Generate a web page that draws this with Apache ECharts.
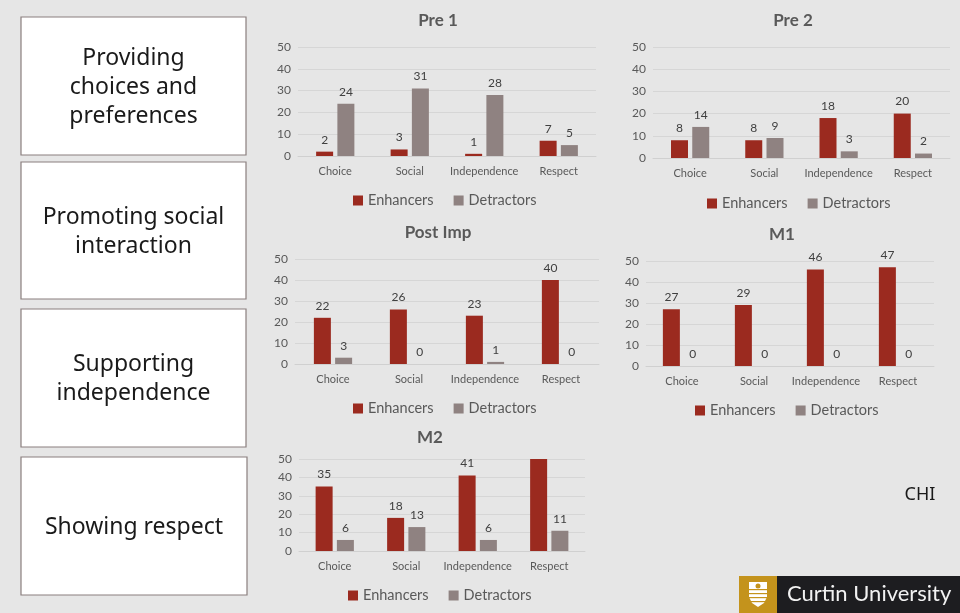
<!DOCTYPE html>
<html>
<head>
<meta charset="utf-8">
<script src="https://cdn.jsdelivr.net/npm/echarts@6/dist/echarts.min.js"></script>
<style>
html,body{margin:0;padding:0;background:#e6e6e6;}
#c{width:960px;height:613px;}
</style>
</head>
<body>
<div id="c"></div>
<script>
const categories = ['Choice', 'Social', 'Independence', 'Respect'];
const yTicks = [0, 10, 20, 30, 40, 50];
const chartTitles = ['Pre 1', 'Pre 2', 'Post Imp', 'M1', 'M2'];
const seriesNames = ['Enhancers', 'Detractors'];
const pre1Enhancers = [2, 3, 1, 7];
const pre1Detractors = [24, 31, 28, 5];
const pre2Enhancers = [8, 8, 18, 20];
const pre2Detractors = [14, 9, 3, 2];
const postImpEnhancers = [22, 26, 23, 40];
const postImpDetractors = [3, 0, 1, 0];
const m1Enhancers = [27, 29, 46, 47];
const m1Detractors = [0, 0, 0, 0];
const m2Enhancers = [35, 18, 41, 50];
const m2Detractors = [6, 13, 6, 11];
const boxLabels = ['Providing\nchoices and\npreferences', 'Promoting social\ninteraction', 'Supporting\nindependence', 'Showing respect'];

const enhData = [pre1Enhancers, pre2Enhancers, postImpEnhancers, m1Enhancers, m2Enhancers];
const detData = [pre1Detractors, pre2Detractors, postImpDetractors, m1Detractors, m2Detractors];

// layout
const grids = [
  {left: 298, top: 47, width: 298, height: 109},
  {left: 653, top: 47, width: 297, height: 111},
  {left: 295, top: 259, width: 304, height: 105},
  {left: 646, top: 261, width: 288, height: 105},
  {left: 299, top: 459, width: 286, height: 92}
];
const titlePos = [[438, 12], [793, 12], [438, 224], [782, 226], [430, 429]];
const legendPos = [[353, 193], [707, 196], [353, 401], [695, 403], [348, 588]];
const boxes = [[21, 17, 225, 138], [21, 162, 225, 137], [21, 309, 225, 138], [21, 457, 226, 138]];

const RED = '#9b2a1f', GREY = '#8f8281', TXT = '#595959', FONT = 'Lato, "Open Sans", sans-serif';
const yMax = yTicks[yTicks.length - 1];

const chart = echarts.init(document.getElementById('c'), null, {renderer: 'canvas'});

const option = {
  backgroundColor: '#e6e6e6',
  animation: false,
  color: [RED, GREY],
  title: chartTitles.map((t, i) => ({
    text: t, left: titlePos[i][0], top: titlePos[i][1], textAlign: 'center', padding: 0,
    textStyle: {fontFamily: FONT, fontSize: 17, fontWeight: 'bold', color: TXT}
  })),
  legend: legendPos.map(p => ({
    data: seriesNames, left: p[0], top: p[1], padding: 0, itemWidth: 10, itemHeight: 10, itemGap: 20,
    icon: 'rect', textStyle: {fontFamily: FONT, fontSize: 14.5, color: TXT}
  })),
  grid: grids.map(g => Object.assign({containLabel: false}, g)),
  xAxis: grids.map((g, i) => ({
    type: 'category', gridIndex: i, data: categories,
    axisLine: {lineStyle: {color: '#d0d0d0'}}, axisTick: {show: false},
    axisLabel: {fontFamily: FONT, fontSize: 11, color: TXT, margin: 10, interval: 0}
  })),
  yAxis: grids.map((g, i) => ({
    type: 'value', gridIndex: i, min: yTicks[0], max: yMax, interval: yTicks[1] - yTicks[0],
    axisLine: {show: false}, axisTick: {show: false},
    splitLine: {lineStyle: {color: '#d6d6d6'}},
    axisLabel: {fontFamily: FONT, fontSize: 12, color: TXT, margin: 7}
  })),
  series: [],
  graphic: []
};

const labelCfg = {
  show: true, position: 'top', distance: 6, fontFamily: FONT, fontSize: 12, color: '#404040',
  formatter: p => (p.value >= yMax ? '' : String(p.value))
};
for (let i = 0; i < grids.length; i++) {
  option.series.push({
    name: seriesNames[0], type: 'bar', xAxisIndex: i, yAxisIndex: i, data: enhData[i],
    barWidth: 17, barGap: '25%', itemStyle: {color: RED}, label: labelCfg
  });
  option.series.push({
    name: seriesNames[1], type: 'bar', xAxisIndex: i, yAxisIndex: i, data: detData[i],
    barWidth: 17, barGap: '25%', itemStyle: {color: GREY}, label: labelCfg
  });
}

// left boxes
boxes.forEach((b, i) => {
  option.graphic.push({
    type: 'rect', shape: {x: b[0], y: b[1], width: b[2], height: b[3]},
    style: {fill: '#ffffff', stroke: '#8a7f7e', lineWidth: 1.2}, z: 1
  });
  option.graphic.push({
    type: 'text', x: b[0] + b[2] / 2, y: b[1] + b[3] / 2 + 1, z: 2,
    style: {
      text: boxLabels[i], fontFamily: '"Noto Sans", Lato, sans-serif', fontSize: 23,
      lineHeight: 29, fill: '#1a1a1a', align: 'center', verticalAlign: 'middle'
    }
  });
});

// CHI
option.graphic.push({
  type: 'text', x: 920, y: 495, z: 2,
  style: {text: 'CHI', fontFamily: '"Noto Sans", sans-serif', fontSize: 18, fill: '#1a1a1a', align: 'center', verticalAlign: 'middle'}
});

// Curtin logo
option.graphic.push({type: 'rect', shape: {x: 739, y: 576, width: 38, height: 37}, style: {fill: '#c4931c'}, z: 1});
option.graphic.push({type: 'rect', shape: {x: 777, y: 576, width: 183, height: 37}, style: {fill: '#1d1d20'}, z: 1});
option.graphic.push({
  type: 'polygon', z: 2,
  shape: {points: [[749, 582], [767, 582], [767, 597], [764, 603], [758, 607], [752, 603], [749, 597]]},
  style: {fill: '#ffffff'}
});
[589, 593, 597, 601].forEach(yy => {
  option.graphic.push({type: 'rect', z: 3, shape: {x: 749, y: yy, width: 18, height: 1.2}, style: {fill: '#c4931c'}});
});
option.graphic.push({type: 'circle', z: 3, shape: {cx: 758, cy: 586, r: 2.5}, style: {fill: '#c4931c'}});
option.graphic.push({
  type: 'text', x: 787, y: 594, z: 2,
  style: {text: 'Curtin University', fontFamily: 'Lato, sans-serif', fontSize: 22, fill: '#f2f2f2', verticalAlign: 'middle'}
});

chart.setOption(option);
</script>
</body>
</html>
